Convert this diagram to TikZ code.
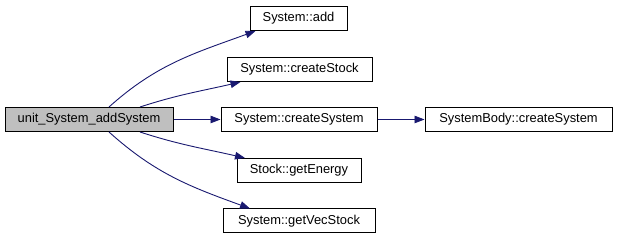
\documentclass[tikz,border=0pt]{standalone}
\usepackage{fontspec}
\setmainfont{Liberation Sans}
\usetikzlibrary{arrows.meta}
\definecolor{edgeblue}{RGB}{25,25,112}
\definecolor{srcgray}{RGB}{191,191,191}
\begin{document}
\begin{tikzpicture}[x=1pt,y=1pt,
  fn/.style={draw=black, line width=1pt, fill=white, minimum height=24pt,
    inner sep=0pt, font=\fontsize{12.9}{15}\selectfont},
  srcfn/.style={fn, fill=srcgray},
  call/.style={draw=edgeblue, line width=0.9pt,
    -{Triangle[length=10pt,width=7.5pt]}, shorten >=0pt}]
\useasboundingbox (0,0) rectangle (617,240);

\node[srcfn, minimum width=168pt] (src) at (89,120.5) {unit\_System\_addSystem};
\node[fn, minimum width=97pt]  (add)    at (298.5,221.5) {System::add};
\node[fn, minimum width=145pt] (cstock) at (299.5,170.5) {System::createStock};
\node[fn, minimum width=156pt] (csys)   at (299,120.5)   {System::createSystem};
\node[fn, minimum width=124pt] (energy) at (299,69.5)    {Stock::getEnergy};
\node[fn, minimum width=152pt] (vec)    at (299,19)      {System::getVecStock};
\node[fn, minimum width=187pt] (body)   at (518.5,120.5) {SystemBody::createSystem};

% calls from the unit test
\draw[call] ([xshift=20pt]src.north) to[out=42,in=200] ([xshift=-43pt]add.south);
\draw[call] ([xshift=51pt]src.north) to[out=18,in=193] ([xshift=-59pt]cstock.south);
\draw[call] (src.east) -- (csys.west);
\draw[call] ([xshift=51pt]src.south) to[out=-18,in=167] ([xshift=-54pt]energy.north);
\draw[call] ([xshift=20pt]src.south) to[out=-42,in=160] ([xshift=-49pt]vec.north);
% nested call
\draw[call] (csys.east) -- (body.west);
\end{tikzpicture}
\end{document}
